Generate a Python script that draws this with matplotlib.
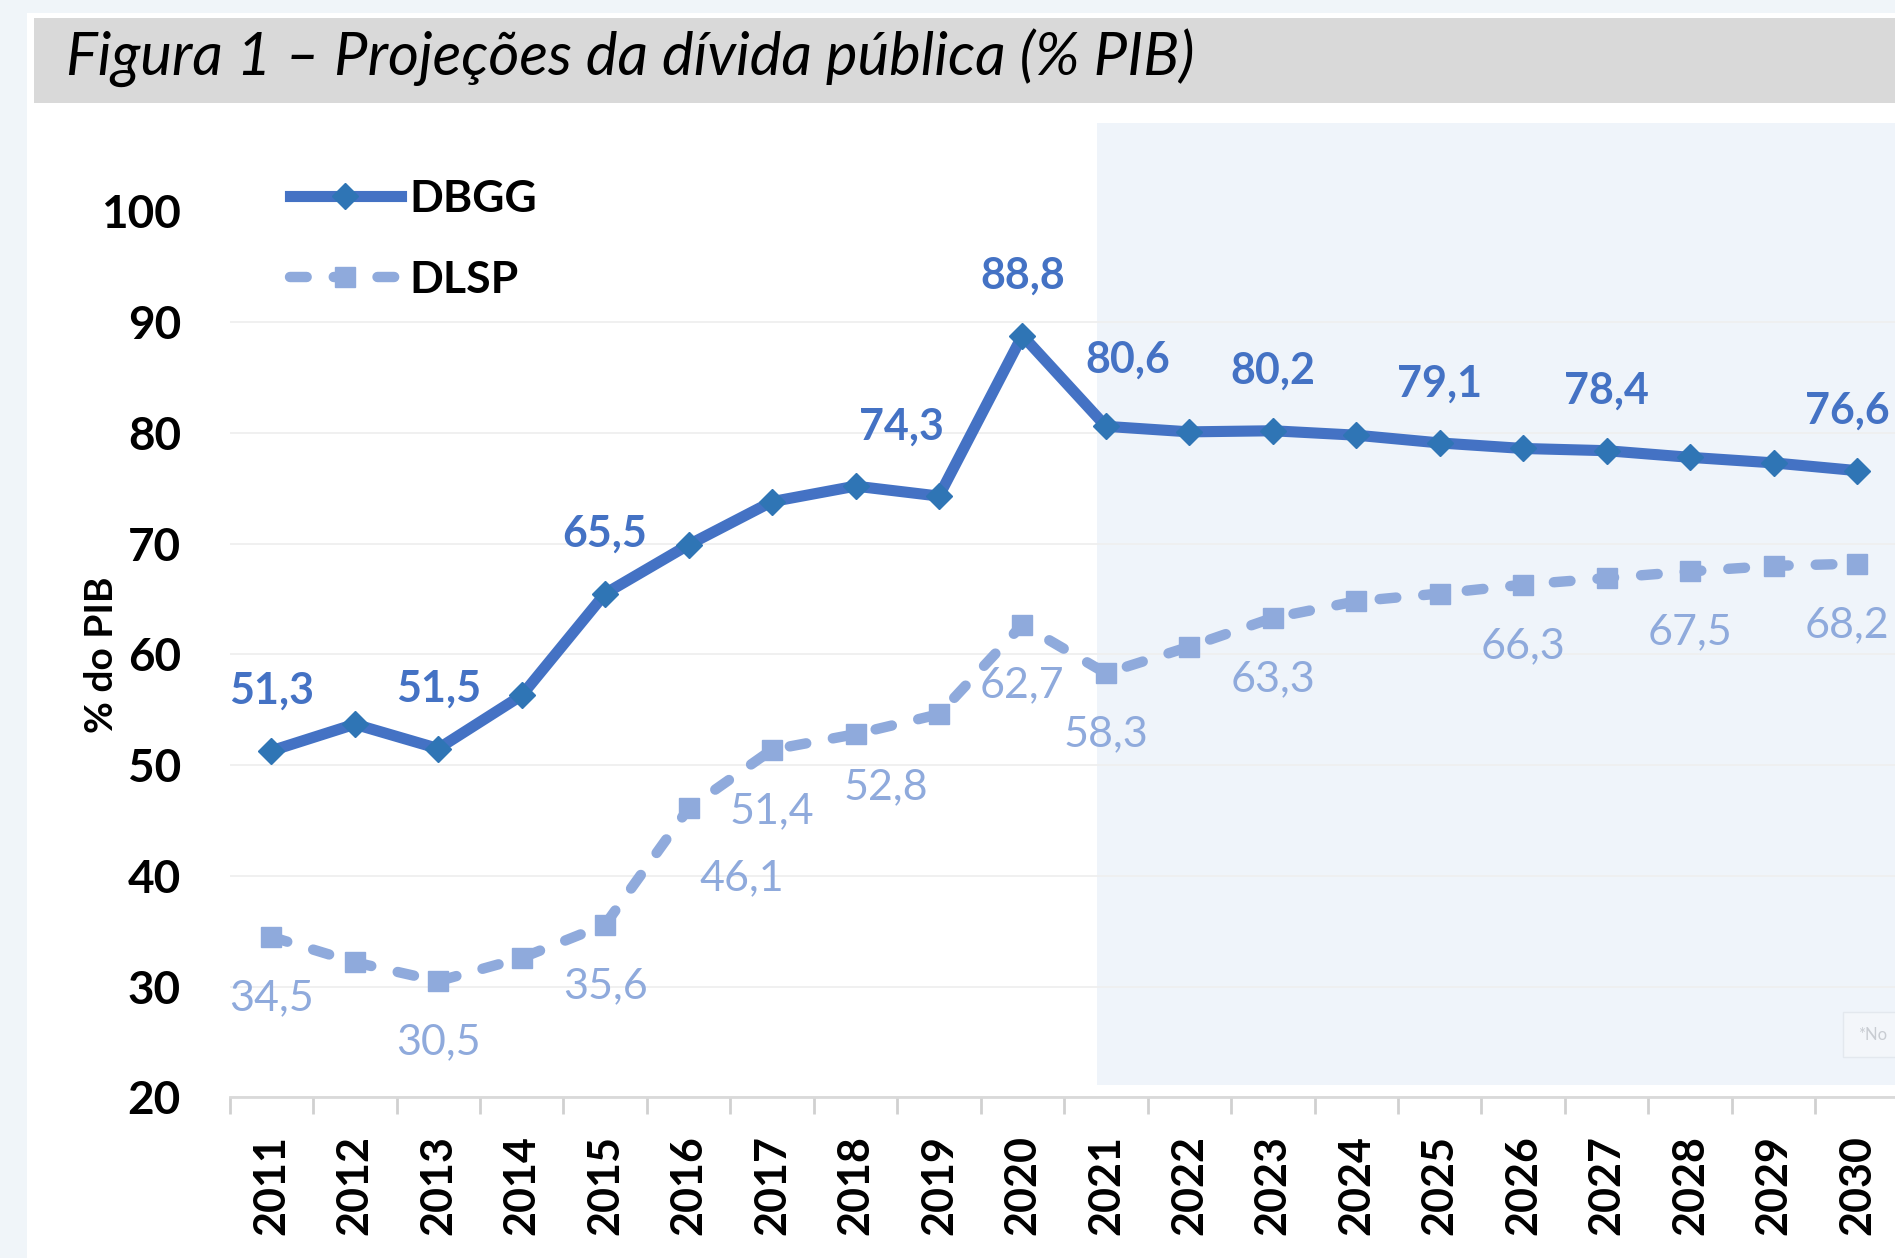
import matplotlib
matplotlib.use("Agg")
import matplotlib.pyplot as plt
from matplotlib.patches import Rectangle
from matplotlib.ticker import FixedLocator

plt.rcParams["font.family"] = ["Lato", "DejaVu Sans"]

# Debt series, % of GDP (2021 onward are projections)
years = [str(y) for y in range(2011, 2031)]
dbgg = [51.3, 53.7, 51.5, 56.3, 65.5, 69.9, 73.8, 75.2, 74.3, 88.8,
        80.6, 80.1, 80.2, 79.8, 79.1, 78.6, 78.4, 77.8, 77.3, 76.6]
dlsp = [34.5, 32.2, 30.5, 32.6, 35.6, 46.1, 51.4, 52.8, 54.6, 62.7,
        58.3, 60.7, 63.3, 64.8, 65.5, 66.3, 66.9, 67.5, 68.0, 68.2]

# years that carry a value label
dbgg_labelled = ["2011", "2013", "2015", "2019", "2020", "2021", "2023", "2025", "2027", "2030"]
dlsp_labelled = ["2011", "2013", "2015", "2016", "2017", "2018", "2020", "2021", "2023",
                 "2026", "2028", "2030"]

TITLE = "Figura 1 – Projeções da dívida pública (% PIB)"

DBGG_COLOR = "#4472C4"
DBGG_MARKER = "#2F75B5"
DLSP_COLOR = "#8FAADC"

# label offsets in points; a few are nudged to avoid the lines or the page edge
ABOVE = (0, 43)
BELOW = (0, -44)
dbgg_offsets = {"2019": (-27, 50), "2021": (16, 48), "2030": (-7, 43)}
dlsp_offsets = {"2016": (38, -50), "2018": (22, -38), "2030": (-7, -44)}

W, H = 1895, 1258
fig = plt.figure(figsize=(W / 100, H / 100), dpi=100)
fig.patch.set_facecolor("#F0F5F9")

# white page and grey caption band, kept behind the axes
fig.patches.append(Rectangle((27 / W, 0), 1, 1 - 13 / H, transform=fig.transFigure,
                             facecolor="white", edgecolor="none", zorder=-3))
fig.patches.append(Rectangle((34 / W, 1 - 103 / H), 1, 85 / H, transform=fig.transFigure,
                             facecolor="#D9D9D9", edgecolor="none", zorder=-2))
fig.text(66 / W, 1 - 58 / H, TITLE, fontsize=43, style="italic", color="black",
         ha="left", va="center")

# axes run slightly past the right edge of the page
ax = fig.add_axes([229.6 / W, 1 - 1097.4 / H, 1669.1 / W, 885.9 / H])
ax.set_facecolor("none")
ax.set_zorder(1)

x = list(range(len(years)))

# projection period shading
ax.add_patch(Rectangle((9.89, 21.1), 11, 86.9, facecolor="#EFF4FA", edgecolor="none",
                       zorder=0, clip_on=False))

ax.plot(x, dbgg, color=DBGG_COLOR, lw=8, marker="D", ms=13,
        markerfacecolor=DBGG_MARKER, markeredgecolor=DBGG_MARKER,
        solid_joinstyle="miter", label="DBGG", zorder=4, clip_on=False)
ax.plot(x, dlsp, color=DLSP_COLOR, lw=7.5, marker="s", ms=15,
        markerfacecolor=DLSP_COLOR, markeredgecolor=DLSP_COLOR,
        dashes=(1.6, 2.6), dash_capstyle="round", label="DLSP", zorder=3, clip_on=False)


def fmt(v):
    return f"{v:.1f}".replace(".", ",")


for yr in dbgg_labelled:
    i = years.index(yr)
    ax.annotate(fmt(dbgg[i]), (i, dbgg[i]), xytext=dbgg_offsets.get(yr, ABOVE),
                textcoords="offset points", ha="center", va="center",
                fontsize=31, fontweight="bold", color=DBGG_COLOR, zorder=5,
                annotation_clip=False)

for yr in dlsp_labelled:
    i = years.index(yr)
    ax.annotate(fmt(dlsp[i]), (i, dlsp[i]), xytext=dlsp_offsets.get(yr, BELOW),
                textcoords="offset points", ha="center", va="center",
                fontsize=31, color=DLSP_COLOR, zorder=5, annotation_clip=False)

ax.set_xlim(-0.5, 19.5)
ax.set_ylim(20, 100)
ax.set_yticks(range(20, 101, 10))
ax.set_xticks(x)
ax.set_xticklabels(years, rotation=90, fontsize=31, fontweight="bold")
ax.xaxis.set_minor_locator(FixedLocator([i - 0.5 for i in range(len(years) + 1)]))
for lbl in ax.get_yticklabels():
    lbl.set_fontsize(33)
    lbl.set_fontweight("bold")

ax.tick_params(axis="y", length=0, pad=35)
ax.tick_params(axis="x", which="major", length=0, pad=27)
ax.tick_params(axis="x", which="minor", length=12, width=2, color="#D0D0D0")

ax.grid(axis="y", color="#EEEEEE", lw=1.2, zorder=1)
ax.set_axisbelow(True)
for side in ("top", "right", "left"):
    ax.spines[side].set_visible(False)
ax.spines["bottom"].set_color("#D9D9D9")
ax.spines["bottom"].set_linewidth(2)

ax.set_ylabel("% do PIB", fontsize=28, fontweight="bold")
ax.yaxis.set_label_coords(-0.066, 0.5)

leg = ax.legend(loc="upper left", bbox_to_anchor=(0.036, 1.037), frameon=False,
                fontsize=32, handlelength=2.5, handletextpad=0.2, labelspacing=0.93,
                borderpad=0, borderaxespad=0)
for t in leg.get_texts():
    t.set_fontweight("bold")

# faint note box at the lower right
fig.patches.append(Rectangle((1843 / W, 1 - 1057 / H), 0.1, 45 / H, transform=fig.transFigure,
                             facecolor="#F3F6FA", edgecolor="#E3E8EE", lw=1, zorder=2))
fig.text(1858 / W, 1 - 1035 / H, "*No", fontsize=12, color="#C8CCD2",
         ha="left", va="center", zorder=3)

fig.savefig("out.png", dpi=100, facecolor=fig.get_facecolor())
